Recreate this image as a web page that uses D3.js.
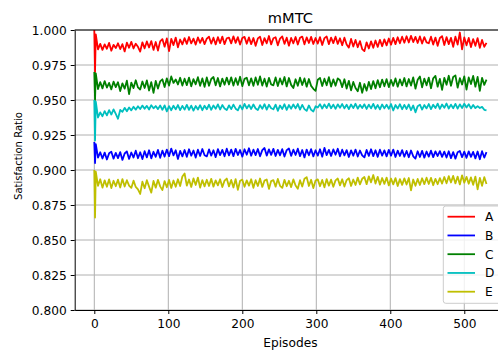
<!DOCTYPE html>
<html>
<head>
<meta charset="utf-8">
<script src="https://cdn.jsdelivr.net/npm/d3@7/dist/d3.min.js"></script>
<style>
  html, body { margin: 0; padding: 0; background: #fff; }
  svg { display: block; font-family: "DejaVu Sans", sans-serif; }
</style>
</head>
<body>
<svg id="chart" width="498" height="354"></svg>
<script>
// Episode index: the first two episodes, then every third episode up to 530
const episodes = [0, 1].concat(d3.range(2, 531, 3));

const seriesNames = ["A", "B", "C", "D", "E"];
const seriesColors = ["#ff0000", "#0000ff", "#008000", "#00bfbf", "#bfbf00"];

const valuesA = [
  1.0000, 0.9700,
  0.9968, 0.9862, 0.9901, 0.9858, 0.9897, 0.9866, 0.9908, 0.9852, 0.9894, 0.9871,
  0.9905, 0.9864, 0.9899, 0.9847, 0.9910, 0.9873, 0.9915, 0.9868, 0.9902, 0.9880,
  0.9846, 0.9912, 0.9869, 0.9918, 0.9875, 0.9921, 0.9858, 0.9914, 0.9853, 0.9919,
  0.9935, 0.9881, 0.9940, 0.9849, 0.9937, 0.9892, 0.9946, 0.9876, 0.9932, 0.9897,
  0.9942, 0.9901, 0.9950, 0.9904, 0.9938, 0.9896, 0.9947, 0.9908, 0.9944, 0.9899,
  0.9938, 0.9952, 0.9903, 0.9945, 0.9897, 0.9949, 0.9906, 0.9953, 0.9899, 0.9941,
  0.9946, 0.9904, 0.9955, 0.9908, 0.9949, 0.9896, 0.9943, 0.9951, 0.9902, 0.9947,
  0.9899, 0.9943, 0.9887, 0.9940, 0.9952, 0.9893, 0.9942, 0.9905, 0.9957, 0.9897,
  0.9941, 0.9948, 0.9891, 0.9939, 0.9954, 0.9901, 0.9945, 0.9888, 0.9943, 0.9905,
  0.9950, 0.9896, 0.9944, 0.9953, 0.9898, 0.9947, 0.9907, 0.9951, 0.9900, 0.9943,
  0.9903, 0.9949, 0.9893, 0.9942, 0.9954, 0.9899, 0.9946, 0.9906, 0.9952, 0.9901,
  0.9941, 0.9891, 0.9945, 0.9896, 0.9874, 0.9936, 0.9882, 0.9929, 0.9877, 0.9921,
  0.9864, 0.9849, 0.9912, 0.9868, 0.9919, 0.9873, 0.9925, 0.9879, 0.9930, 0.9884,
  0.9933, 0.9890, 0.9939, 0.9895, 0.9944, 0.9899, 0.9948, 0.9905, 0.9952, 0.9909,
  0.9955, 0.9911, 0.9958, 0.9914, 0.9951, 0.9907, 0.9954, 0.9903, 0.9949, 0.9912,
  0.9905, 0.9952, 0.9896, 0.9946, 0.9887, 0.9943, 0.9956, 0.9893, 0.9949, 0.9899,
  0.9944, 0.9880, 0.9952, 0.9896, 0.9982, 0.9862, 0.9947, 0.9891, 0.9943, 0.9878,
  0.9935, 0.9887, 0.9942, 0.9873, 0.9929, 0.9880, 0.9908
];

const valuesB = [
  0.9200, 0.9050,
  0.9185, 0.9088, 0.9127, 0.9082, 0.9124, 0.9075, 0.9119, 0.9130, 0.9081, 0.9122,
  0.9085, 0.9128, 0.9072, 0.9118, 0.9133, 0.9079, 0.9125, 0.9089, 0.9138, 0.9084,
  0.9127, 0.9078, 0.9134, 0.9090, 0.9141, 0.9083, 0.9130, 0.9094, 0.9143, 0.9087,
  0.9138, 0.9096, 0.9146, 0.9099, 0.9153, 0.9104, 0.9141, 0.9079, 0.9136, 0.9097,
  0.9143, 0.9094, 0.9148, 0.9102, 0.9139, 0.9089, 0.9145, 0.9100, 0.9150, 0.9105,
  0.9097, 0.9147, 0.9103, 0.9141, 0.9092, 0.9149, 0.9106, 0.9144, 0.9098, 0.9152,
  0.9104, 0.9146, 0.9099, 0.9151, 0.9107, 0.9143, 0.9095, 0.9148, 0.9109, 0.9155,
  0.9102, 0.9145, 0.9106, 0.9150, 0.9098, 0.9142, 0.9157, 0.9103, 0.9147, 0.9108,
  0.9151, 0.9100, 0.9144, 0.9105, 0.9149, 0.9096, 0.9142, 0.9154, 0.9101, 0.9145,
  0.9107, 0.9152, 0.9099, 0.9143, 0.9090, 0.9146, 0.9105, 0.9149, 0.9097, 0.9141,
  0.9103, 0.9148, 0.9095, 0.9158, 0.9106, 0.9144, 0.9100, 0.9147, 0.9109, 0.9152,
  0.9098, 0.9145, 0.9104, 0.9142, 0.9093, 0.9140, 0.9102, 0.9146, 0.9096, 0.9139,
  0.9105, 0.9090, 0.9143, 0.9101, 0.9148, 0.9099, 0.9141, 0.9094, 0.9145, 0.9103,
  0.9140, 0.9097, 0.9144, 0.9102, 0.9146, 0.9093, 0.9138, 0.9100, 0.9142, 0.9095,
  0.9136, 0.9091, 0.9139, 0.9098, 0.9082, 0.9134, 0.9093, 0.9137, 0.9088, 0.9132,
  0.9096, 0.9138, 0.9092, 0.9133, 0.9100, 0.9135, 0.9094, 0.9131, 0.9089, 0.9134,
  0.9085, 0.9128, 0.9081, 0.9127, 0.9136, 0.9092, 0.9131, 0.9087, 0.9133, 0.9094,
  0.9129, 0.9083, 0.9132, 0.9077, 0.9134, 0.9089, 0.9128
];

const valuesC = [
  0.9700, 0.9500,
  0.9690, 0.9578, 0.9628, 0.9583, 0.9635, 0.9589, 0.9622, 0.9576, 0.9631, 0.9592,
  0.9627, 0.9564, 0.9619, 0.9581, 0.9638, 0.9542, 0.9624, 0.9585, 0.9641, 0.9590,
  0.9575, 0.9632, 0.9586, 0.9640, 0.9568, 0.9628, 0.9551, 0.9636, 0.9582, 0.9633,
  0.9648, 0.9593, 0.9655, 0.9603, 0.9668, 0.9622, 0.9647, 0.9611, 0.9659, 0.9603,
  0.9652, 0.9606, 0.9660, 0.9598, 0.9649, 0.9612, 0.9663, 0.9601, 0.9654, 0.9594,
  0.9661, 0.9602, 0.9650, 0.9664, 0.9605, 0.9657, 0.9597, 0.9653, 0.9609, 0.9660,
  0.9611, 0.9662, 0.9603, 0.9656, 0.9608, 0.9666, 0.9599, 0.9651, 0.9659, 0.9605,
  0.9655, 0.9601, 0.9661, 0.9609, 0.9668, 0.9603, 0.9652, 0.9596, 0.9658, 0.9611,
  0.9605, 0.9661, 0.9600, 0.9654, 0.9611, 0.9664, 0.9597, 0.9657, 0.9608, 0.9586,
  0.9648, 0.9602, 0.9659, 0.9607, 0.9654, 0.9595, 0.9650, 0.9601, 0.9580, 0.9565,
  0.9645, 0.9658, 0.9600, 0.9652, 0.9605, 0.9663, 0.9596, 0.9647, 0.9602, 0.9655,
  0.9641, 0.9592, 0.9648, 0.9582, 0.9637, 0.9569, 0.9629, 0.9586, 0.9563, 0.9623,
  0.9552, 0.9614, 0.9567, 0.9629, 0.9578, 0.9635, 0.9584, 0.9642, 0.9591, 0.9646,
  0.9598, 0.9649, 0.9592, 0.9643, 0.9601, 0.9654, 0.9595, 0.9647, 0.9604, 0.9657,
  0.9597, 0.9650, 0.9603, 0.9662, 0.9581, 0.9644, 0.9668, 0.9591, 0.9653, 0.9605,
  0.9660, 0.9584, 0.9655, 0.9672, 0.9595, 0.9651, 0.9572, 0.9658, 0.9609, 0.9673,
  0.9602, 0.9664, 0.9676, 0.9588, 0.9656, 0.9611, 0.9669, 0.9575, 0.9661, 0.9614,
  0.9672, 0.9595, 0.9665, 0.9566, 0.9658, 0.9608, 0.9645
];

const valuesD = [
  0.9500, 0.9210,
  0.9488, 0.9375, 0.9412, 0.9384, 0.9421, 0.9390, 0.9428, 0.9396, 0.9433, 0.9401,
  0.9366, 0.9429, 0.9415, 0.9444, 0.9420, 0.9447, 0.9426, 0.9452, 0.9431, 0.9455,
  0.9436, 0.9460, 0.9438, 0.9458, 0.9432, 0.9463, 0.9441, 0.9457, 0.9435, 0.9461,
  0.9430, 0.9462, 0.9419, 0.9456, 0.9427, 0.9459, 0.9433, 0.9464, 0.9428, 0.9458,
  0.9431, 0.9465, 0.9429, 0.9460, 0.9424, 0.9457, 0.9432, 0.9463, 0.9427, 0.9459,
  0.9434, 0.9466, 0.9430, 0.9461, 0.9437, 0.9469, 0.9432, 0.9464, 0.9439, 0.9428,
  0.9462, 0.9435, 0.9467, 0.9438, 0.9426, 0.9462, 0.9433, 0.9472, 0.9440, 0.9465,
  0.9436, 0.9468, 0.9439, 0.9428, 0.9463, 0.9437, 0.9470, 0.9431, 0.9466, 0.9441,
  0.9434, 0.9467, 0.9423, 0.9461, 0.9436, 0.9470, 0.9429, 0.9464, 0.9438, 0.9468,
  0.9440, 0.9471, 0.9431, 0.9465, 0.9435, 0.9422, 0.9461, 0.9430, 0.9418, 0.9455,
  0.9446, 0.9470, 0.9439, 0.9468, 0.9442, 0.9474, 0.9441, 0.9467, 0.9437, 0.9469,
  0.9444, 0.9471, 0.9440, 0.9466, 0.9435, 0.9468, 0.9442, 0.9473, 0.9438, 0.9465,
  0.9443, 0.9469, 0.9436, 0.9467, 0.9440, 0.9472, 0.9437, 0.9464, 0.9433, 0.9468,
  0.9440, 0.9466, 0.9437, 0.9471, 0.9425, 0.9464, 0.9439, 0.9470, 0.9434, 0.9465,
  0.9436, 0.9468, 0.9427, 0.9461, 0.9412, 0.9456, 0.9467, 0.9432, 0.9464, 0.9440,
  0.9471, 0.9435, 0.9466, 0.9442, 0.9474, 0.9437, 0.9468, 0.9444, 0.9475, 0.9439,
  0.9467, 0.9441, 0.9472, 0.9438, 0.9469, 0.9443, 0.9473, 0.9446, 0.9470, 0.9440,
  0.9465, 0.9442, 0.9456, 0.9443, 0.9451, 0.9430, 0.9426
];

const valuesE = [
  0.9000, 0.8660,
  0.8988, 0.8887, 0.8934, 0.8874, 0.8926, 0.8880, 0.8933, 0.8871, 0.8923, 0.8884,
  0.8931, 0.8875, 0.8935, 0.8882, 0.8927, 0.8888, 0.8872, 0.8924, 0.8879, 0.8861,
  0.8829, 0.8916, 0.8870, 0.8927, 0.8881, 0.8838, 0.8922, 0.8874, 0.8930, 0.8883,
  0.8856, 0.8921, 0.8877, 0.8929, 0.8872, 0.8925, 0.8880, 0.8934, 0.8886, 0.8953,
  0.8975, 0.8888, 0.8932, 0.8879, 0.8940, 0.8893, 0.8946, 0.8874, 0.8928, 0.8883,
  0.8930, 0.8886, 0.8937, 0.8881, 0.8926, 0.8890, 0.8934, 0.8878, 0.8924, 0.8939,
  0.8883, 0.8929, 0.8875, 0.8935, 0.8858, 0.8923, 0.8931, 0.8880, 0.8926, 0.8888,
  0.8934, 0.8873, 0.8927, 0.8886, 0.8939, 0.8879, 0.8924, 0.8932, 0.8865, 0.8921,
  0.8928, 0.8881, 0.8936, 0.8887, 0.8872, 0.8930, 0.8884, 0.8923, 0.8878, 0.8933,
  0.8889, 0.8866, 0.8927, 0.8882, 0.8937, 0.8949, 0.8886, 0.8930, 0.8871, 0.8925,
  0.8933, 0.8884, 0.8929, 0.8876, 0.8935, 0.8888, 0.8931, 0.8880, 0.8926, 0.8939,
  0.8890, 0.8934, 0.8882, 0.8928, 0.8941, 0.8886, 0.8932, 0.8893, 0.8946, 0.8897,
  0.8937, 0.8950, 0.8899, 0.8955, 0.8912, 0.8964, 0.8903, 0.8951, 0.8895, 0.8943,
  0.8901, 0.8946, 0.8890, 0.8939, 0.8897, 0.8942, 0.8886, 0.8935, 0.8894, 0.8940,
  0.8896, 0.8943, 0.8855, 0.8932, 0.8887, 0.8936, 0.8893, 0.8941, 0.8899, 0.8945,
  0.8900, 0.8944, 0.8891, 0.8937, 0.8898, 0.8942, 0.8903, 0.8950, 0.8905, 0.8956,
  0.8911, 0.8958, 0.8904, 0.8953, 0.8897, 0.8962, 0.8909, 0.8951, 0.8902, 0.8947,
  0.8894, 0.8953, 0.8862, 0.8944, 0.8887, 0.8949, 0.8900
];

const xTicks = [0, 100, 200, 300, 400, 500];
const yTicks = [0.800, 0.825, 0.850, 0.875, 0.900, 0.925, 0.950, 0.975, 1.000];

const titleText = "mMTC";
const xLabelText = "Episodes";
const yLabelText = "Satisfaction Ratio";

const allSeries = [valuesA, valuesB, valuesC, valuesD, valuesE];

// Plot area (the right edge runs slightly past the window)
const plot = { left: 74.7, right: 506.1, top: 30, bottom: 310 };

const svg = d3.select("#chart");

const x = d3.scaleLinear().domain([-26.5, 556.5]).range([plot.left, plot.right]);
const y = d3.scaleLinear().domain([0.8, 1.0]).range([plot.bottom, plot.top]);

svg.append("defs").append("clipPath").attr("id", "plot-clip")
  .append("rect")
  .attr("x", plot.left).attr("y", plot.top)
  .attr("width", plot.right - plot.left).attr("height", plot.bottom - plot.top);

// Grid
const grid = svg.append("g").attr("stroke", "#b0b0b0").attr("stroke-width", 1);
grid.selectAll("line.gx").data(xTicks).join("line")
  .attr("class", "gx")
  .attr("x1", d => x(d)).attr("x2", d => x(d))
  .attr("y1", plot.top).attr("y2", plot.bottom);
grid.selectAll("line.gy").data(yTicks).join("line")
  .attr("class", "gy")
  .attr("x1", plot.left).attr("x2", plot.right)
  .attr("y1", d => y(d)).attr("y2", d => y(d));

// Lines
const line = d3.line()
  .x((d, i) => x(episodes[i]))
  .y(d => y(d));

svg.append("g").attr("clip-path", "url(#plot-clip)")
  .selectAll("path").data(allSeries).join("path")
  .attr("d", d => line(d))
  .attr("fill", "none")
  .attr("stroke", (d, i) => seriesColors[i])
  .attr("stroke-width", 1.8)
  .attr("stroke-linejoin", "round")
  .attr("stroke-linecap", "butt");

// Axes
const xAxis = d3.axisBottom(x).tickValues(xTicks).tickFormat(d3.format("d"))
  .tickSizeInner(4).tickSizeOuter(0).tickPadding(5);
const yAxis = d3.axisLeft(y).tickValues(yTicks).tickFormat(d3.format(".3f"))
  .tickSizeInner(4).tickSizeOuter(0).tickPadding(4);

const gx = svg.append("g").attr("transform", `translate(0,${plot.bottom})`).call(xAxis);
const gy = svg.append("g").attr("transform", `translate(${plot.left},0)`).call(yAxis);

[gx, gy].forEach(g => {
  g.select(".domain").attr("stroke", "#000").attr("stroke-width", 1);
  g.selectAll(".tick line").attr("stroke", "#000").attr("stroke-width", 1);
  g.selectAll(".tick text")
    .attr("fill", "#000")
    .style("font-family", "DejaVu Sans, sans-serif")
    .style("font-size", "12.2px");
});
gy.selectAll(".tick text").attr("dy", "0.36em");
gx.selectAll(".tick text").attr("dy", "0.76em");

// Top spine
svg.append("line")
  .attr("x1", plot.left).attr("x2", plot.right)
  .attr("y1", plot.top).attr("y2", plot.top)
  .attr("stroke", "#000").attr("stroke-width", 1);
// Right spine
svg.append("line")
  .attr("x1", plot.right).attr("x2", plot.right)
  .attr("y1", plot.top).attr("y2", plot.bottom)
  .attr("stroke", "#000").attr("stroke-width", 1);

// Title and labels
svg.append("text")
  .attr("x", 290.4).attr("y", 23.3)
  .attr("text-anchor", "middle")
  .style("font-size", "14.6px")
  .attr("fill", "#000")
  .text(titleText);

svg.append("text")
  .attr("x", 290.4).attr("y", 346.5)
  .attr("text-anchor", "middle")
  .style("font-size", "12.2px")
  .attr("fill", "#000")
  .text(xLabelText);

svg.append("text")
  .attr("transform", "translate(21.5,156) rotate(-90)")
  .attr("text-anchor", "middle")
  .style("font-size", "11px")
  .attr("textLength", 88)
  .attr("lengthAdjust", "spacingAndGlyphs")
  .attr("fill", "#000")
  .text(yLabelText);

// Legend
const legend = svg.append("g");
legend.append("rect")
  .attr("x", 443.3).attr("y", 206)
  .attr("width", 80).attr("height", 97.3)
  .attr("rx", 2.5)
  .attr("fill", "#fff").attr("fill-opacity", 0.8)
  .attr("stroke", "#cccccc").attr("stroke-width", 1);

const legendRowY = d3.scaleLinear().domain([0, 4]).range([216.7, 291.7]);
const items = legend.selectAll("g.item").data(seriesNames).join("g").attr("class", "item");
items.append("line")
  .attr("x1", 447.5).attr("x2", 475)
  .attr("y1", (d, i) => legendRowY(i)).attr("y2", (d, i) => legendRowY(i))
  .attr("stroke", (d, i) => seriesColors[i])
  .attr("stroke-width", 1.8);
items.append("text")
  .attr("x", 485)
  .attr("y", (d, i) => legendRowY(i) + 4.4)
  .style("font-size", "12.2px")
  .attr("fill", "#000")
  .text(d => d);
</script>
</body>
</html>
